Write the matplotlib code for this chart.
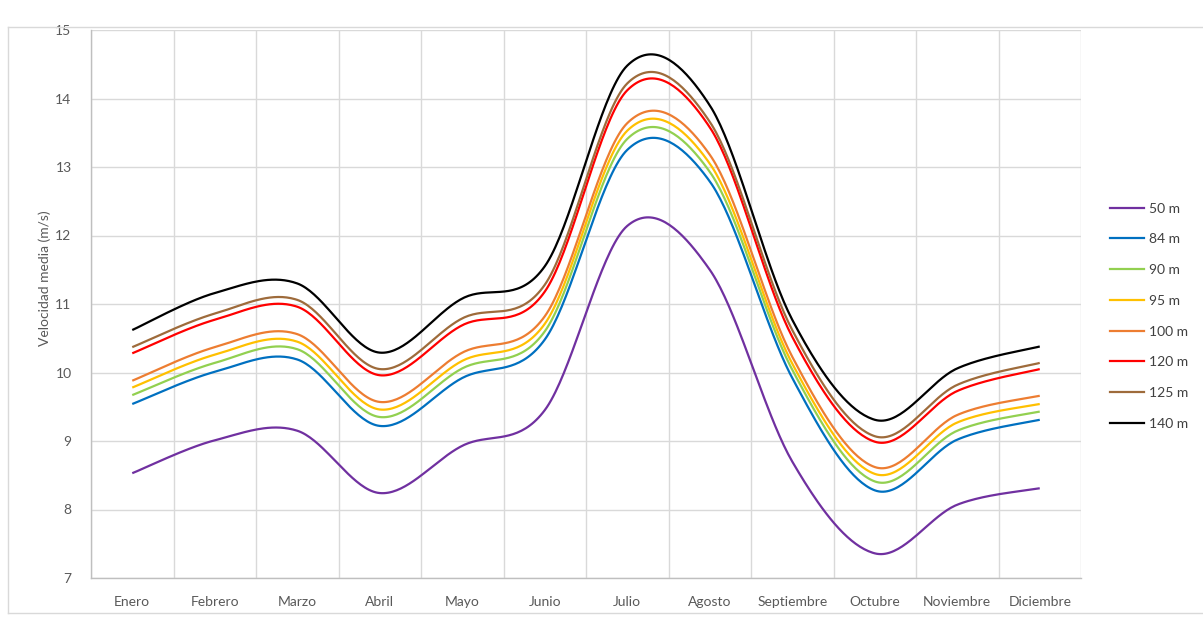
import numpy as np
import matplotlib
matplotlib.use("Agg")
import matplotlib.pyplot as plt
from matplotlib.lines import Line2D

months = ["Enero", "Febrero", "Marzo", "Abril", "Mayo", "Junio", "Julio",
          "Agosto", "Septiembre", "Octubre", "Noviembre", "Diciembre"]

labels = ["50 m", "84 m", "90 m", "95 m", "100 m", "120 m", "125 m", "140 m"]
colors = ["#7030A0", "#0070C0", "#92D050", "#FFC000", "#ED7D31", "#FF0000", "#9E6B3B", "#000000"]

v50 = [8.53, 9.01, 9.15, 8.24, 8.93, 9.45, 12.14, 11.50, 8.70, 7.36, 8.07, 8.31]
v84 = [9.54, 10.01, 10.19, 9.22, 9.92, 10.48, 13.25, 12.79, 9.92, 8.28, 9.02, 9.31]
v90 = [9.67, 10.14, 10.34, 9.35, 10.06, 10.60, 13.41, 12.93, 10.04, 8.41, 9.15, 9.43]
v95 = [9.78, 10.26, 10.45, 9.46, 10.17, 10.71, 13.53, 13.05, 10.13, 8.52, 9.27, 9.54]
v100 = [9.88, 10.37, 10.56, 9.57, 10.29, 10.82, 13.64, 13.18, 10.23, 8.62, 9.38, 9.66]
v120 = [10.28, 10.77, 10.96, 9.96, 10.69, 11.18, 14.12, 13.58, 10.52, 8.99, 9.73, 10.05]
v125 = [10.37, 10.86, 11.06, 10.05, 10.79, 11.28, 14.22, 13.66, 10.62, 9.07, 9.82, 10.14]
v140 = [10.62, 11.16, 11.30, 10.29, 11.08, 11.55, 14.48, 13.90, 10.77, 9.31, 10.06, 10.38]

series = [v50, v84, v90, v95, v100, v120, v125, v140]


def smooth(xs, ys, n=40):
    P = np.column_stack([xs, ys]).astype(float)
    m = len(P)
    out = []
    for i in range(m - 1):
        p0 = P[i - 1] if i > 0 else P[i]
        p1 = P[i]
        p2 = P[i + 1]
        p3 = P[i + 2] if i + 2 < m else P[i + 1]
        c1 = p1 + (p2 - p0) / 6.0
        c2 = p2 - (p3 - p1) / 6.0
        t = np.linspace(0, 1, n)[:, None]
        seg = ((1 - t) ** 3) * p1 + 3 * ((1 - t) ** 2) * t * c1 + 3 * (1 - t) * t ** 2 * c2 + t ** 3 * p2
        out.append(seg if i == 0 else seg[1:])
    out = np.vstack(out)
    return out[:, 0], out[:, 1]


plt.rcParams['font.family'] = ['Lato', 'DejaVu Sans']

W, H = 1203, 617
fig = plt.figure(figsize=(W / 100, H / 100), dpi=100)
ax = fig.add_axes([91 / W, 1 - 578 / H, 990 / W, 548 / H])

x = np.arange(len(months))
for vals, lab, col in zip(series, labels, colors):
    sx, sy = smooth(x, vals)
    ax.plot(sx, sy, color=col, lw=1.6, label=lab, solid_capstyle='butt', zorder=3)

ax.set_xlim(-0.5, len(months) - 0.5)
ax.set_ylim(7, 15)
ax.set_yticks(np.arange(7, 16, 1))
ax.set_xticks(x)
ax.set_xticklabels(months)
ax.set_xticks(np.arange(-0.5, len(months), 1), minor=True)
ax.grid(True, which='minor', axis='x', color='#d9d9d9', lw=1)
ax.grid(True, which='major', axis='y', color='#d9d9d9', lw=1)
ax.tick_params(axis='both', which='both', length=0, colors='#595959', labelsize=10)
ax.tick_params(axis='x', pad=13)
ax.tick_params(axis='y', pad=14)
for s in ['top', 'right']:
    ax.spines[s].set_visible(False)
for s in ['left', 'bottom']:
    ax.spines[s].set_color('#bfbfbf')
    ax.spines[s].set_linewidth(1)
ax.set_axisbelow(True)

fig.text(45 / W, 1 - 278 / H, "Velocidad media (m/s)", rotation=90, ha='center', va='center',
         color='#595959', fontsize=10)

handles = [Line2D([], [], color=c, lw=1.6) for c in colors]
leg = fig.legend(handles, labels, loc='upper left', bbox_to_anchor=(1104 / W, 1 - 197 / H),
                 frameon=False, fontsize=10, handlelength=2.5, handletextpad=0.35,
                 labelspacing=1.35, borderaxespad=0)
for t in leg.get_texts():
    t.set_color('#404040')

# chart area frame
fig.add_artist(Line2D([8 / W, 8 / W], [1 - 27 / H, 1 - 613 / H], transform=fig.transFigure, color='#d9d9d9', lw=1))
fig.add_artist(Line2D([8 / W, 1.0], [1 - 27 / H, 1 - 27 / H], transform=fig.transFigure, color='#d9d9d9', lw=1))
fig.add_artist(Line2D([8 / W, 1.0], [1 - 613 / H, 1 - 613 / H], transform=fig.transFigure, color='#d9d9d9', lw=1))

fig.savefig("out.png", dpi=100, facecolor='white')
